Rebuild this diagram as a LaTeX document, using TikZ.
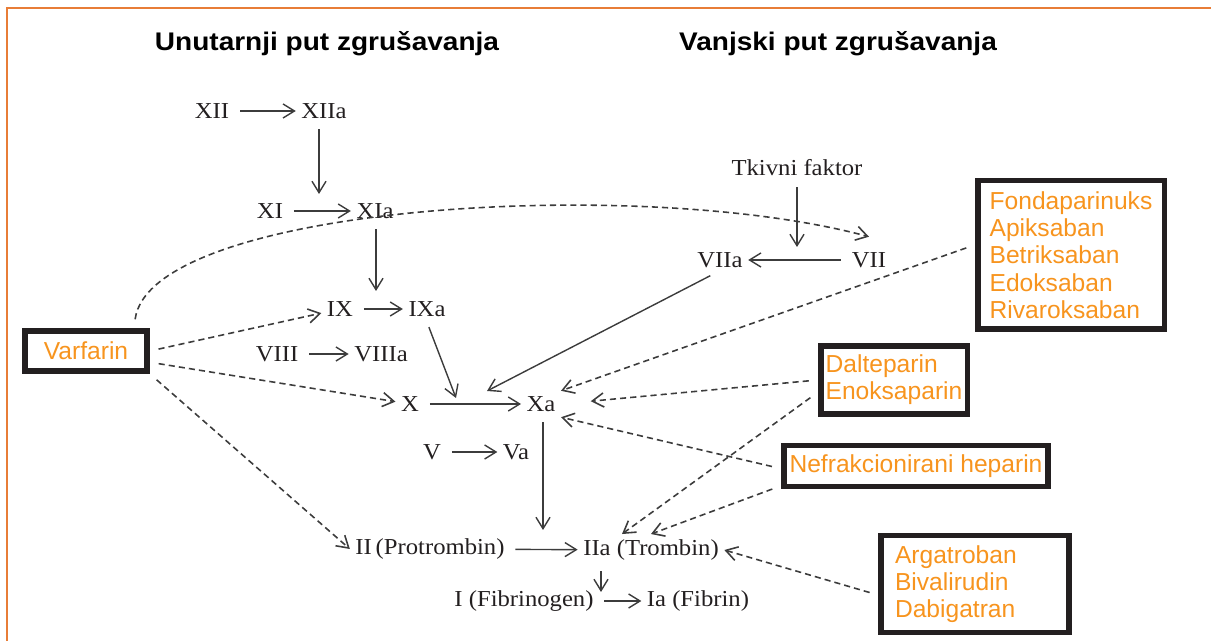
\documentclass[tikz,border=0pt]{standalone}
\usepackage{fontspec}
\setmainfont{Liberation Serif}[FakeStretch=1.08]
\setsansfont{Liberation Sans}
\newfontfamily\headfont{Liberation Sans}[FakeStretch=1.1]
\usetikzlibrary{arrows.meta}
\definecolor{lekorange}{RGB}{247,148,30}
\definecolor{okvir}{RGB}{232,125,55}
\definecolor{linija}{RGB}{60,60,60}
\definecolor{rub}{RGB}{35,31,32}

\begin{document}
\begin{tikzpicture}[x=0.02cm,y=-0.02cm,
    faktor/.style={font=\fontsize{13}{15}\selectfont, text=rub, inner sep=3pt},
    naslov/.style={font=\headfont\bfseries\fontsize{14.5}{17}\selectfont},
    lijek/.style={draw=rub, line width=3.4pt, text=lekorange, inner xsep=2pt,
        font=\sffamily\fontsize{14}{15.5}\selectfont, align=left},
    put/.style={draw=linija, line width=0.8pt, shorten <=3pt,
        -{Straight Barb[length=6.5pt,width=8pt]}},
    koc/.style={put, line width=0.9pt, dash pattern=on 3.5pt off 2.3pt, shorten <=5pt}]
    \useasboundingbox (0,0) rectangle (1211,641);
    \draw[okvir, line width=1.5pt] (7,641) -- (7,8) -- (1211,8);

    \node[naslov] (unut) at (327,44) {Unutarnji put zgrušavanja};
    \node[naslov] (vanj) at (838,44) {Vanjski put zgrušavanja};

    % unutarnji put
    \node[faktor] (f12) at (212,111) {XII};
    \node[faktor] (f12a) at (324,111) {XIIa};
    \node[faktor] (f11) at (270,211) {XI};
    \node[faktor] (f11a) at (375,211) {XIa};
    \node[faktor] (f9) at (340,309) {IX};
    \node[faktor] (f9a) at (427,309) {IXa};
    \node[faktor] (f8) at (277,354) {VIII};
    \node[faktor] (f8a) at (381,354) {VIIIa};
    \node[faktor] (f10) at (410,404) {X};
    \node[faktor] (f10a) at (541,404) {Xa};
    \node[faktor] (f5) at (432,452) {V};
    \node[faktor] (f5a) at (516,452) {Va};
    \node[faktor] (prot) at (430,549) {II\,(Protrombin)};
    \node[faktor] (trom) at (651,550) {IIa (Trombin)};
    \node[faktor] (fibg) at (524,601) {I (Fibrinogen)};
    \node[faktor] (fib) at (698,601) {Ia (Fibrin)};

    % vanjski put
    \node[faktor] (tkf) at (797,168) {Tkivni faktor};
    \node[faktor] (f7a) at (720,260) {VIIa};
    \node[faktor] (f7) at (869,260) {VII};

    \coordinate (k11) at (319,194);
    \coordinate (k9) at (376,291);
    \coordinate (k10) at (456,398);
    \coordinate (k7) at (487,391);
    \coordinate (k2) at (543,530);
    \coordinate (k1) at (601,592);
    \coordinate (k7b) at (797,247);

    \draw[put] (f12) -- (f12a);
    \draw[put] (f12a.south -| k11) -- (k11);
    \draw[put] (f11) -- (f11a);
    \draw[put] (f11a.south -| k9) -- (k9);
    \draw[put] (f9) -- (f9a);
    \draw[put] (f8) -- (f8a);
    \draw[put] (f9a.south) -- (k10);
    \draw[put] (f10) -- (f10a);
    \draw[put] (f5) -- (f5a);
    \draw[put] ([xshift=-0.1cm]f7a.south) -- (k7);
    \draw[put] (f10a.south -| k2) -- (k2);
    \draw[put] (prot) -- (trom);
    \draw[put] (trom.south -| k1) -- (k1);
    \draw[put] (fibg) -- (fib);
    \draw[put] (tkf) -- (k7b);
    \draw[put] (f7) -- (f7a);

    % lijekovi
    \node[lijek, minimum width=2.44cm, minimum height=0.8cm] (varf) at (86,351) {Varfarin};
    \node[lijek, minimum width=3.74cm, minimum height=2.98cm] (fonda) at (1071,255)
        {Fondaparinuks\\Apiksaban\\Betriksaban\\Edoksaban\\Rivaroksaban};
    \node[lijek, minimum width=2.94cm, minimum height=1.36cm] (dalt) at (894,380)
        {Dalteparin\\Enoksaparin};
    \node[lijek, minimum width=5.3cm, minimum height=0.82cm] (nef) at (916,466)
        {Nefrakcionirani heparin};
    \node[lijek, text width=3.2cm, inner xsep=0.28cm, minimum height=1.94cm] (argo) at (975,584)
        {Argatroban\\Bivalirudin\\Dabigatran};

    \draw[koc] ([xshift=-0.32cm]varf.north east) .. controls (150,205) and (640,175) .. ([yshift=0.2cm]f7.north);
    \draw[koc] (varf.east) -- (f9);
    \draw[koc] (varf.-10) -- (f10);
    \draw[koc] (varf.south east) -- (prot.west);
    \draw[koc] ([yshift=0.2cm]fonda.west) -- (f10a.north east);
    \draw[koc, shorten >=17pt] (dalt.west) -- (f10a.east);
    \draw[koc] ([yshift=-0.25cm]dalt.west) -- ([xshift=-0.58cm]trom.north);
    \draw[koc] ([yshift=-0.05cm]nef.west) -- (f10a.south east);
    \draw[koc] ([yshift=-0.4cm]nef.west) -- (trom.north);
    \draw[koc] ([yshift=-0.22cm]argo.west) -- (trom.east);
\end{tikzpicture}
\end{document}
